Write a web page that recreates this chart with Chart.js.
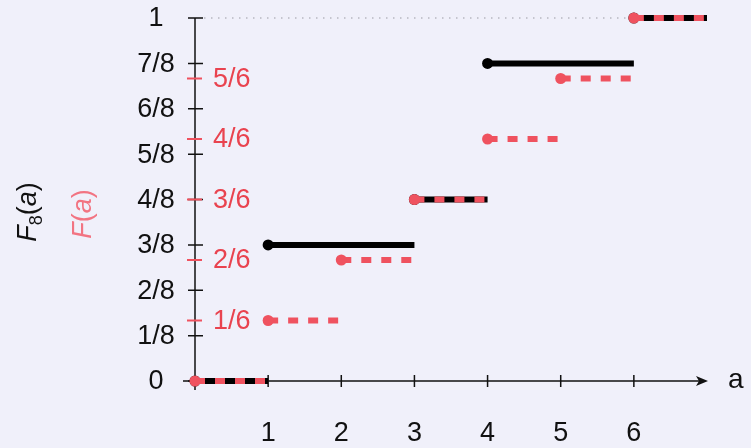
<!DOCTYPE html>
<html>
<head>
<meta charset="utf-8">
<script src="https://cdn.jsdelivr.net/npm/chart.js@4"></script>
<style>
  html, body { margin: 0; background: #f0f0fa; }
</style>
</head>
<body>
<canvas id="c" width="751" height="448"></canvas>
<script>
// empirical CDF of 8 throws and the true CDF of a fair die
const sampleBreaks = [0, 1, 3, 4, 6, 7];
const sampleValues = [0, 3/8, 4/8, 7/8, 1];
const dieBreaks = [0, 1, 2, 3, 4, 5, 6, 7];
const dieValues = [0, 1/6, 2/6, 3/6, 4/6, 5/6, 1];
const xTicks = [1, 2, 3, 4, 5, 6];
const eighthLabels = ['0', '1/8', '2/8', '3/8', '4/8', '5/8', '6/8', '7/8', '1'];
const sixthLabels = ['1/6', '2/6', '3/6', '4/6', '5/6'];

const RED = '#ef525f';
const RED_TEXT = '#e9434f';
const FONT = '"Liberation Sans", Helvetica, Arial, sans-serif';

// horizontal pieces, separated by null so no vertical jumps are drawn
function stepSegments(breaks, values) {
  const pts = [];
  values.forEach((v, i) => {
    pts.push({x: breaks[i], y: v}, {x: breaks[i + 1], y: v});
    if (i < values.length - 1) pts.push({x: breaks[i + 1], y: null});
  });
  return pts;
}

function stepStarts(breaks, values) {
  return values.map((v, i) => ({x: breaks[i], y: v}));
}

const axesPlugin = {
  id: 'axes',
  beforeDatasetsDraw(chart) {
    const ctx = chart.ctx;
    const xs = chart.scales.x, ys = chart.scales.y;
    const x0 = xs.getPixelForValue(0), y0 = ys.getPixelForValue(0);
    const yTop = ys.getPixelForValue(1);
    ctx.save();

    // dotted guide at 1
    ctx.strokeStyle = '#9a9aa4';
    ctx.lineWidth = 1.2;
    ctx.setLineDash([1.5, 5.5]);
    ctx.beginPath();
    ctx.moveTo(x0 + 9, yTop);
    ctx.lineTo(xs.getPixelForValue(6), yTop);
    ctx.stroke();
    ctx.setLineDash([]);

    // axes
    ctx.strokeStyle = '#111';
    ctx.lineWidth = 1.5;
    ctx.beginPath();
    ctx.moveTo(x0, y0 + 9);
    ctx.lineTo(x0, yTop);
    const xEnd = xs.getPixelForValue(7) + 1;
    ctx.moveTo(x0 - 12, y0);
    ctx.lineTo(xEnd - 6, y0);
    ctx.stroke();
    ctx.fillStyle = '#111';
    ctx.beginPath();
    ctx.moveTo(xEnd, y0);
    ctx.lineTo(xEnd - 12, y0 - 5);
    ctx.lineTo(xEnd - 9, y0);
    ctx.lineTo(xEnd - 12, y0 + 5);
    ctx.closePath();
    ctx.fill();

    // ticks
    ctx.beginPath();
    xTicks.forEach(t => {
      const px = xs.getPixelForValue(t);
      ctx.moveTo(px, y0 - 6);
      ctx.lineTo(px, y0 + 6);
    });
    eighthLabels.forEach((_, k) => {
      const py = ys.getPixelForValue(k / 8);
      ctx.moveTo(x0 - 7, py);
      ctx.lineTo(x0 + 8, py);
    });
    ctx.stroke();
    ctx.strokeStyle = RED;
    ctx.lineWidth = 1.8;
    ctx.beginPath();
    sixthLabels.forEach((_, k) => {
      const py = ys.getPixelForValue((k + 1) / 6);
      ctx.moveTo(x0 - 8, py);
      ctx.lineTo(x0 + 7, py);
    });
    ctx.stroke();

    // tick labels
    ctx.font = '27px ' + FONT;
    ctx.textBaseline = 'middle';
    ctx.textAlign = 'center';
    ctx.fillStyle = '#111';
    xTicks.forEach(t => ctx.fillText(String(t), xs.getPixelForValue(t), y0 + 53));
    eighthLabels.forEach((lab, k) => ctx.fillText(lab, 156, ys.getPixelForValue(k / 8) + 1));
    ctx.textAlign = 'left';
    ctx.fillStyle = RED_TEXT;
    sixthLabels.forEach((lab, k) => ctx.fillText(lab, x0 + 18, ys.getPixelForValue((k + 1) / 6) + 1));
    ctx.fillStyle = '#111';
    ctx.font = '28px ' + FONT;
    ctx.fillText('a', xEnd + 20, y0 - 1);

    // rotated axis titles
    drawTitle(ctx, 27, 212, '#111', true);
    drawTitle(ctx, 82, 214, '#f27482', false);
    ctx.restore();
  }
};

function drawTitle(ctx, cx, cy, color, withSub) {
  const pieces = [
    {t: 'F', f: 'italic 27px ' + FONT, dy: 0},
    withSub ? {t: '8', f: '18px ' + FONT, dy: 6} : null,
    {t: '(', f: '27px ' + FONT, dy: 0},
    {t: 'a', f: 'italic 27px ' + FONT, dy: 0},
    {t: ')', f: '27px ' + FONT, dy: 0},
  ].filter(Boolean);
  ctx.save();
  ctx.translate(cx, cy);
  ctx.rotate(-Math.PI / 2);
  ctx.fillStyle = color;
  ctx.textAlign = 'left';
  ctx.textBaseline = 'alphabetic';
  let total = 0;
  pieces.forEach(p => { ctx.font = p.f; p.w = ctx.measureText(p.t).width; total += p.w; });
  let x = -total / 2;
  pieces.forEach(p => {
    ctx.font = p.f;
    ctx.fillText(p.t, x, 9 + p.dy);
    x += p.w;
  });
  ctx.restore();
}

new Chart(document.getElementById('c'), {
  type: 'line',
  data: {
    datasets: [
      {
        data: stepStarts(dieBreaks, dieValues),
        showLine: false,
        pointRadius: 5.5,
        pointBackgroundColor: RED,
        pointBorderWidth: 0,
        order: 1,
        clip: false,
      },
      {
        data: stepSegments(dieBreaks, dieValues),
        borderColor: RED,
        borderWidth: 6,
        borderDash: [10, 10],
        pointRadius: 0,
        spanGaps: false,
        order: 2,
        clip: false,
      },
      {
        data: stepStarts(sampleBreaks, sampleValues),
        showLine: false,
        pointRadius: 5.5,
        pointBackgroundColor: '#000',
        pointBorderWidth: 0,
        order: 3,
        clip: false,
      },
      {
        data: stepSegments(sampleBreaks, sampleValues),
        borderColor: '#000',
        borderWidth: 6,
        pointRadius: 0,
        spanGaps: false,
        order: 4,
        clip: false,
      },
    ],
  },
  options: {
    responsive: false,
    animation: false,
    layout: { padding: { left: 195, right: 44, top: 18, bottom: 67 } },
    scales: {
      x: { type: 'linear', min: 0, max: 7, display: false },
      y: { type: 'linear', min: 0, max: 1, display: false },
    },
    plugins: { legend: { display: false }, tooltip: { enabled: false } },
  },
  plugins: [axesPlugin],
});
</script>
</body>
</html>
